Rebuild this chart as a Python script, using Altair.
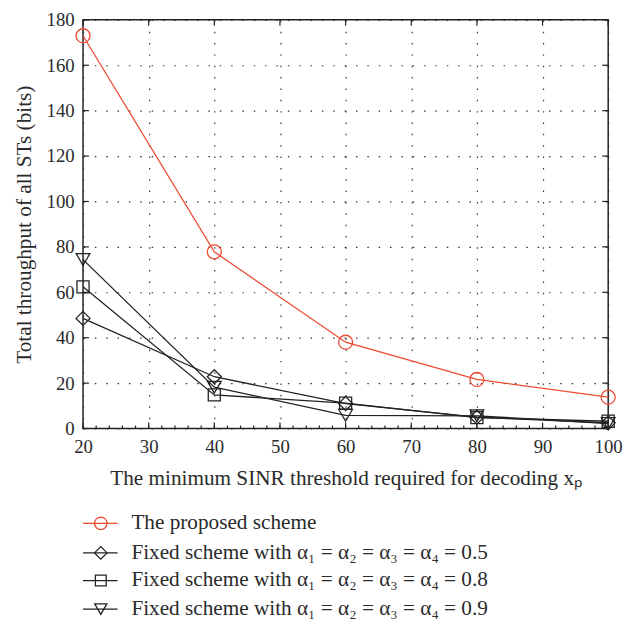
import altair as alt
import pandas as pd

# ---- data ----
x_vals = [20, 40, 60, 80, 100]
proposed = [173.0, 77.8, 38.0, 21.6, 13.8]
fixed_05 = [48.5, 22.8, 11.0, 5.0, 2.5]
fixed_08 = [62.4, 14.8, 11.2, 4.8, 3.2]
fixed_09 = [74.4, 18.2, 5.8, 5.6, 2.2]

series_names = [
    "The proposed scheme",
    "Fixed scheme with α₁ = α₂ = α₃ = α₄ = 0.5",
    "Fixed scheme with α₁ = α₂ = α₃ = α₄ = 0.8",
    "Fixed scheme with α₁ = α₂ = α₃ = α₄ = 0.9",
]
series_values = [proposed, fixed_05, fixed_08, fixed_09]
series_colors = ["#ee4b33", "#222222", "#222222", "#222222"]
series_shapes = ["circle", "diamond", "square", "triangle-down"]
series_sizes = [200, 200, 150, 190]

x_ticks = [20, 30, 40, 50, 60, 70, 80, 90, 100]
x_minor = [v for v in range(20, 101, 2)]
y_ticks = [0, 20, 40, 60, 80, 100, 120, 140, 160, 180]

x_title = "The minimum SINR threshold required for decoding xₚ"
y_title = "Total throughput of all STs (bits)"

W, H = 532, 414
FONT = "Liberation Serif"
TXT = "#2a2a2a"

xs = alt.Scale(domain=[20, 100], nice=False)
ys = alt.Scale(domain=[0, 180], nice=False)

layers = []

axis_common = dict(
    grid=True, gridDash=[1.5, 10], gridColor="#333", gridWidth=1.2, ticks=False,
    domain=False, labelFont=FONT, labelFontSize=19, labelColor=TXT, labelFlush=False,
    labelPadding=9, titleFont=FONT, titleFontSize=21.5, titleFontWeight="normal",
    titleColor=TXT,
)
base_axes = alt.Chart(pd.DataFrame({"x": [20], "y": [0]})).mark_point(opacity=0).encode(
    x=alt.X("x:Q", scale=xs, axis=alt.Axis(values=x_ticks, title=x_title,
                                           titlePadding=12, **axis_common)),
    y=alt.Y("y:Q", scale=ys, axis=alt.Axis(values=y_ticks, title=y_title,
                                           titlePadding=11, **axis_common)),
)
layers.append(base_axes)

# inward ticks
xt = pd.DataFrame({"x": x_ticks})
xm = pd.DataFrame({"x": x_minor})
yt = pd.DataFrame({"y": y_ticks})
tick_style = dict(color="#222", strokeWidth=1.2)
layers.append(alt.Chart(xt).mark_rule(**tick_style).encode(
    x=alt.X("x:Q", scale=xs), y=alt.value(H), y2=alt.value(H - 6)))
layers.append(alt.Chart(xt).mark_rule(**tick_style).encode(
    x=alt.X("x:Q", scale=xs), y=alt.value(0), y2=alt.value(6)))
layers.append(alt.Chart(xm).mark_rule(**tick_style).encode(
    x=alt.X("x:Q", scale=xs), y=alt.value(H), y2=alt.value(H - 3)))
layers.append(alt.Chart(yt).mark_rule(**tick_style).encode(
    y=alt.Y("y:Q", scale=ys), x=alt.value(0), x2=alt.value(6)))
layers.append(alt.Chart(yt).mark_rule(**tick_style).encode(
    y=alt.Y("y:Q", scale=ys), x=alt.value(W), x2=alt.value(W - 6)))

# series
for name, vals, col, shp, sz in zip(series_names, series_values, series_colors,
                                    series_shapes, series_sizes):
    df = pd.DataFrame({"x": x_vals, "y": vals})
    layers.append(alt.Chart(df).mark_line(color=col, strokeWidth=1.3).encode(
        x=alt.X("x:Q", scale=xs), y=alt.Y("y:Q", scale=ys)))
    layers.append(alt.Chart(df).mark_point(
        shape=shp, size=sz, filled=False, color=col, strokeWidth=1.3, opacity=1).encode(
        x=alt.X("x:Q", scale=xs), y=alt.Y("y:Q", scale=ys)))

# manual legend below the plot
leg_y = [510, 540, 568, 597]
for i, (name, col, shp, sz) in enumerate(zip(series_names, series_colors,
                                             series_shapes, series_sizes)):
    d = pd.DataFrame({"label": [name]})
    layers.append(alt.Chart(d).mark_rule(color=col, strokeWidth=1.3).encode(
        x=alt.value(0), x2=alt.value(35), y=alt.value(leg_y[i])))
    layers.append(alt.Chart(d).mark_point(
        shape=shp, size=sz * 0.8, filled=False, color=col, strokeWidth=1.3, opacity=1).encode(
        x=alt.value(18), y=alt.value(leg_y[i])))
    layers.append(alt.Chart(d).mark_text(
        align="left", baseline="middle", font=FONT, fontSize=21.5, color=TXT).encode(
        x=alt.value(49), y=alt.value(leg_y[i]), text="label:N"))

chart = alt.layer(*layers).properties(
    width=W, height=H,
    autosize=alt.AutoSizeParams(type="none"),
    padding={"left": 76, "top": 8, "right": 15, "bottom": 190},
).configure_view(stroke="#222", strokeWidth=1.5)

chart.save("out.html", embed_options={"renderer": "svg", "actions": False})
